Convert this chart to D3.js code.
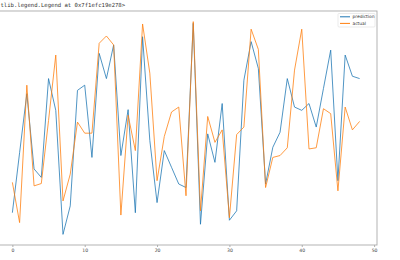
<!DOCTYPE html>
<html>
<head>
<meta charset="utf-8">
<script src="https://cdn.jsdelivr.net/npm/d3@7"></script>
<style>
  body { margin: 0; background: #fff; }
</style>
</head>
<body>
<div id="chart"></div>
<script>
// size of the notebook output cell
const width = 400;
const height = 260;

// values
const prediction = [1.42, 3.97, 6.48, 3.28, 2.92, 7.12, 5.77, 0.50, 1.71, 6.62,
  6.84, 3.77, 8.19, 7.12, 8.55, 3.85, 5.80, 1.42, 8.90, 4.49,
  1.85, 4.06, 3.35, 2.64, 2.49, 9.47, 0.93, 4.77, 3.56, 6.06,
  1.10, 1.50, 7.05, 8.69, 7.55, 2.64, 4.20, 4.84, 7.12, 5.91,
  5.77, 6.06, 5.06, 6.70, 8.33, 2.78, 8.12, 7.22, 7.12];
const actual = [2.71, 1.00, 6.84, 2.56, 2.66, 5.34, 8.12, 1.92, 3.06, 5.27,
  4.80, 4.80, 8.62, 8.93, 8.55, 1.32, 5.56, 4.06, 9.44, 7.35,
  2.78, 4.66, 5.70, 5.91, 2.14, 9.54, 1.50, 5.51, 4.41, 4.94,
  1.21, 4.74, 5.06, 9.22, 8.36, 2.49, 3.77, 3.85, 4.18, 7.48,
  9.22, 4.13, 4.18, 5.84, 5.63, 2.35, 5.91, 4.94, 5.30];
const xTicks = [0, 10, 20, 30, 40, 50];
const seriesNames = ["prediction", "actual"];
const seriesColors = ["#1f77b4", "#ff7f0e"];

// the axes box (left edge sits just outside the picture)
const margin = { top: 11, right: 23, bottom: 15, left: -5 };
const plotW = width - margin.left - margin.right;
const plotH = height - margin.top - margin.bottom;

const svg = d3.select("#chart")
    .append("svg")
    .attr("width", width)
    .attr("height", height)
    .style("background-color", "#fff");

// leftover repr line from the notebook (only its visible part)
svg.append("text")
    .attr("x", 0.5)
    .attr("y", 6.5)
    .style("font-family", "DejaVu Sans Mono, monospace")
    .style("font-size", "5.6px")
    .attr("fill", "#333")
    .text("tlib.legend.Legend at 0x7f1efc19e278>");

const g = svg.append("g")
    .attr("transform", `translate(${margin.left},${margin.top})`);

// matplotlib style 5% margins
const n = prediction.length;
const xPad = (n - 1) * 0.05;
const x = d3.scaleLinear()
    .domain([-xPad, n - 1 + xPad])
    .range([0, plotW]);

const all = prediction.concat(actual);
const [lo, hi] = d3.extent(all);
const yPad = (hi - lo) * 0.05;
const y = d3.scaleLinear()
    .domain([lo - yPad, hi + yPad])
    .range([plotH, 0]);

// x axis
const xAxis = g.append("g")
    .attr("transform", `translate(0,${plotH})`)
    .call(d3.axisBottom(x).tickValues(xTicks).tickSize(2).tickPadding(1.5));
xAxis.select(".domain").remove();
xAxis.selectAll("line").attr("stroke", "#777").attr("stroke-width", 0.6);
xAxis.selectAll("text")
    .style("font-family", "DejaVu Sans, sans-serif")
    .style("font-size", "4.6px")
    .attr("fill", "#444");

// lines
const line = d3.line()
    .x((d, i) => x(i))
    .y(d => y(d));

[prediction, actual].forEach((s, k) => {
  g.append("path")
      .datum(s)
      .attr("d", line)
      .attr("fill", "none")
      .attr("stroke", seriesColors[k])
      .attr("stroke-width", 1)
      .attr("stroke-opacity", 0.78)
      .attr("stroke-linejoin", "round");
});

// spines
g.append("rect")
    .attr("x", 0)
    .attr("y", 0)
    .attr("width", plotW)
    .attr("height", plotH)
    .attr("fill", "none")
    .attr("stroke", "#aaa")
    .attr("stroke-width", 0.9);

// legend, upper right
const legend = svg.append("g")
    .attr("transform", "translate(338,13.5)");
legend.append("rect")
    .attr("width", 37)
    .attr("height", 13.5)
    .attr("rx", 1)
    .attr("fill", "#fff")
    .attr("fill-opacity", 0.8)
    .attr("stroke", "#ddd")
    .attr("stroke-width", 0.6);

seriesNames.forEach((name, k) => {
  const ly = 3.3 + k * 6.6;
  legend.append("line")
      .attr("x1", 2)
      .attr("x2", 12)
      .attr("y1", ly)
      .attr("y2", ly)
      .attr("stroke", seriesColors[k])
      .attr("stroke-width", 1);
  legend.append("text")
      .attr("x", 14.5)
      .attr("y", ly + 1.5)
      .style("font-family", "DejaVu Sans, sans-serif")
      .style("font-size", "4.4px")
      .attr("fill", "#333")
      .text(name);
});
</script>
</body>
</html>
